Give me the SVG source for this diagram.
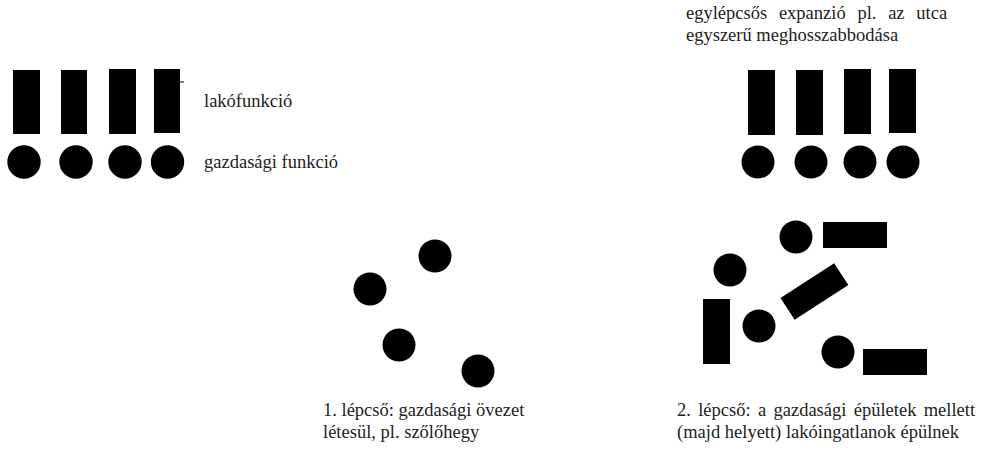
<svg xmlns="http://www.w3.org/2000/svg" width="993" height="451" viewBox="0 0 993 451">
<style>
.b{fill:#000}
.t{font-family:'Liberation Serif','DejaVu Serif',serif;font-size:18.5px;fill:#222}
</style>
<rect width="993" height="451" fill="#fff"/>
<g id="legend">
<g id="legend-houses">
<rect class="b" x="13" y="70" width="27" height="64"/>
<rect class="b" x="61" y="70" width="26" height="64"/>
<rect class="b" x="109" y="69" width="27" height="65"/>
<rect class="b" x="154" y="69" width="26" height="64"/>
<line x1="180" y1="82" x2="184" y2="82" stroke="#000" stroke-width="1"/>
</g>
<g id="legend-farms">
<circle class="b" cx="24" cy="162" r="16.7"/>
<circle class="b" cx="76" cy="162" r="16.7"/>
<circle class="b" cx="125" cy="162" r="16.7"/>
<circle class="b" cx="167.5" cy="162" r="16.7"/>
</g>
<text class="t" font-family="Liberation Serif, serif" x="204" y="107">lakófunkció</text>
<text class="t" font-family="Liberation Serif, serif" x="204" y="168">gazdasági funkció</text>
</g>
<g id="expansion">
<text class="t" font-family="Liberation Serif, serif" x="686" y="19" style="word-spacing:7.1px">egylépcsős expanzió pl. az utca</text>
<text class="t" font-family="Liberation Serif, serif" x="686" y="41">egyszerű meghosszabbodása</text>
<rect class="b" x="748" y="70" width="27" height="65"/>
<rect class="b" x="796" y="70" width="27" height="65"/>
<rect class="b" x="844" y="69" width="27" height="65"/>
<rect class="b" x="889" y="69" width="27" height="64"/>
<circle class="b" cx="758" cy="162" r="16.5"/>
<circle class="b" cx="811" cy="162" r="16.5"/>
<circle class="b" cx="860" cy="162" r="16.5"/>
<circle class="b" cx="903" cy="162" r="16.5"/>
</g>
<g id="step1">
<circle class="b" cx="435" cy="256" r="16.5"/>
<circle class="b" cx="370" cy="289" r="16.5"/>
<circle class="b" cx="399" cy="345" r="16.5"/>
<circle class="b" cx="478" cy="371" r="16.5"/>
<text class="t" font-family="Liberation Serif, serif" x="323" y="416">1. lépcső: gazdasági övezet</text>
<text class="t" font-family="Liberation Serif, serif" x="323" y="438">létesül, pl. szőlőhegy</text>
</g>
<g id="step2">
<circle class="b" cx="796" cy="237" r="16.5"/>
<rect class="b" x="823" y="222" width="64" height="26"/>
<circle class="b" cx="730" cy="270" r="16.5"/>
<rect class="b" x="-32" y="-13" width="64" height="26" transform="translate(814.4 291.5) rotate(-33)"/>
<rect class="b" x="703" y="299" width="27" height="65"/>
<circle class="b" cx="759" cy="326" r="16.5"/>
<circle class="b" cx="838" cy="352" r="16.5"/>
<rect class="b" x="863" y="349" width="64" height="26"/>
<text class="t" font-family="Liberation Serif, serif" x="677" y="416" style="word-spacing:2.7px">2. lépcső: a gazdasági épületek mellett</text>
<text class="t" font-family="Liberation Serif, serif" x="677" y="438">(majd helyett) lakóingatlanok épülnek</text>
</g>
</svg>
